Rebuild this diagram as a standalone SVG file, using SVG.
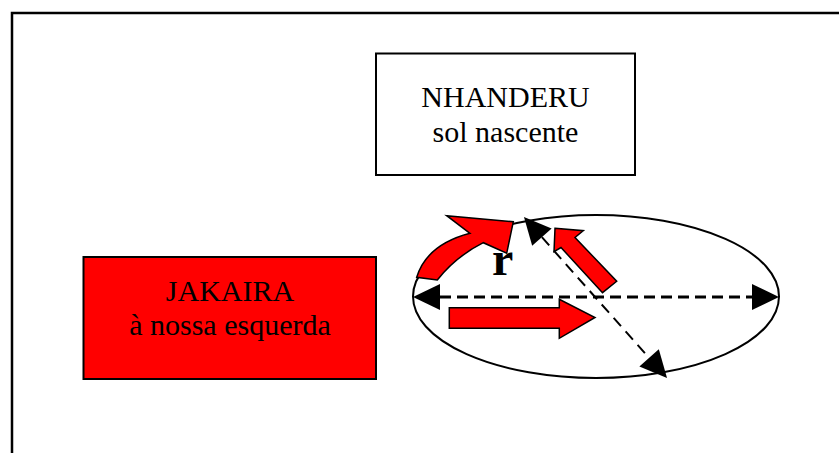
<svg xmlns="http://www.w3.org/2000/svg" width="839" height="453" viewBox="0 0 839 453">
  <style>
    .box { stroke: #000; stroke-width: 2; }
    .lbl { font-family: "Liberation Serif", "Times New Roman", serif; font-size: 30px; fill: #000; text-anchor: middle; }
    .red { fill: #FF0000; stroke: #000; stroke-width: 1.5; stroke-linejoin: miter; }
    .dash { fill: none; stroke: #000; }
  </style>
  <defs>
    <marker id="ah" markerUnits="userSpaceOnUse" markerWidth="27" markerHeight="26" viewBox="0 0 27 26" refX="0" refY="13" orient="auto-start-reverse" overflow="visible">
      <path d="M0,0 L27,13 L0,26 Z" fill="#000"/>
    </marker>
  </defs>
  <rect width="839" height="453" fill="#fff"/>
  <path d="M12,453 V13 H839" fill="none" stroke="#000" stroke-width="2.5"/>

  <g id="nhanderu">
    <rect class="box" x="376" y="53.5" width="259" height="121.5" fill="#fff"/>
    <text class="lbl" x="505.5" y="107">NHANDERU</text>
    <text class="lbl" x="505.5" y="141.5">sol nascente</text>
  </g>

  <g id="jakaira">
    <rect class="box" x="83.5" y="257" width="292.5" height="122" fill="#FF0000"/>
    <text class="lbl" x="230" y="301">JAKAIRA</text>
    <text class="lbl" x="230" y="335">à nossa esquerda</text>
  </g>

  <g id="orbit">
    <ellipse cx="596" cy="296.5" rx="183" ry="81.5" fill="#fff" stroke="#000" stroke-width="2"/>
    <text x="492" y="275" font-family="Liberation Serif, 'Times New Roman', serif" font-size="48" font-weight="bold" fill="#000">r</text>
  </g>

  <g id="red-arrows">
    <path class="red" d="M416.7,277.3 Q426.6,244.7 470,233.3 L446.7,215.7 L513.3,221.7 L506.7,253.3 L483.3,242.7 Q455.7,256.6 437.3,280 Z"/>
    <path class="red" d="M555,228.3 L583.3,230.7 L575,237.5 L616.7,281.3 L602.5,292.7 L561,247.5 L554,251.7 Z"/>
    <path class="red" d="M449.3,307.7 L559.3,307.7 L559.3,299.3 L595,317.5 L559.3,338.3 L559.3,328.3 L449.3,328.3 Z"/>
  </g>

  <g id="connectors">
    <line class="dash" x1="440" y1="297" x2="752" y2="297" stroke-width="3" stroke-dasharray="11 6" marker-start="url(#ah)" marker-end="url(#ah)"/>
    <line class="dash" x1="541.9" y1="237.2" x2="649.1" y2="357.8" stroke-width="2" stroke-dasharray="11 7" marker-start="url(#ah)" marker-end="url(#ah)"/>
  </g>
</svg>
